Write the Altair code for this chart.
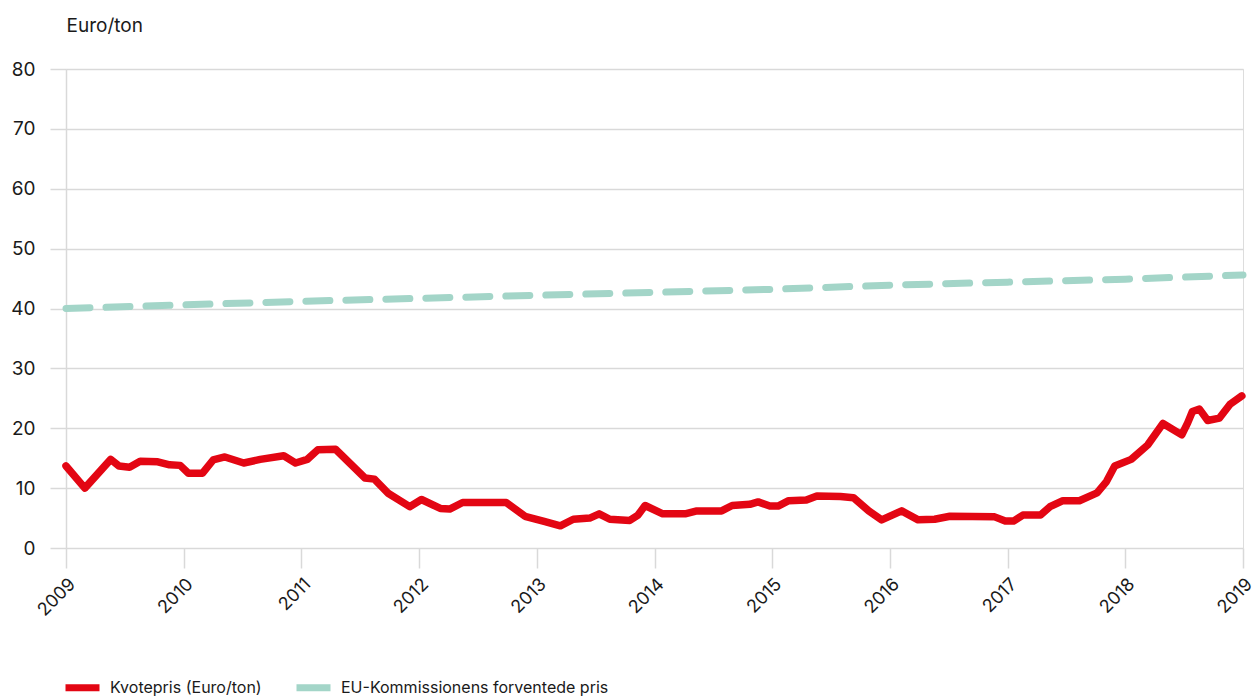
import altair as alt
import pandas as pd

# Quota price observations (decimal year, EUR per ton)
kvote_year = [
    2009.00, 2009.16, 2009.38, 2009.45, 2009.54, 2009.63, 2009.78, 2009.88, 2009.97,
    2010.04, 2010.16, 2010.25, 2010.35, 2010.51, 2010.65, 2010.85, 2010.95,
    2011.05, 2011.14, 2011.29, 2011.54, 2011.62, 2011.74, 2011.92,
    2012.02, 2012.18, 2012.26, 2012.37, 2012.74, 2012.90,
    2013.07, 2013.20, 2013.31, 2013.45, 2013.53, 2013.62, 2013.79, 2013.86, 2013.92,
    2014.07, 2014.26, 2014.36, 2014.57, 2014.66, 2014.81, 2014.88, 2014.98,
    2015.05, 2015.14, 2015.29, 2015.38, 2015.58, 2015.69, 2015.82, 2015.93,
    2016.10, 2016.24, 2016.38, 2016.51, 2016.89, 2016.98,
    2017.05, 2017.13, 2017.28, 2017.36, 2017.47, 2017.61, 2017.76, 2017.84, 2017.91,
    2018.05, 2018.19, 2018.32, 2018.48, 2018.53, 2018.57, 2018.63, 2018.70, 2018.80,
    2018.89, 2018.99,
]
kvote_pris = [
    13.7, 10.0, 14.8, 13.7, 13.5, 14.5, 14.4, 13.9, 13.8,
    12.5, 12.5, 14.7, 15.2, 14.2, 14.8, 15.4, 14.2,
    14.8, 16.4, 16.5, 11.7, 11.5, 9.1, 6.9,
    8.1, 6.6, 6.5, 7.6, 7.6, 5.3,
    4.4, 3.7, 4.8, 5.0, 5.7, 4.8, 4.6, 5.5, 7.1,
    5.7, 5.7, 6.2, 6.2, 7.1, 7.3, 7.7, 7.0,
    7.0, 7.9, 8.0, 8.7, 8.6, 8.4, 6.2, 4.7,
    6.2, 4.7, 4.8, 5.3, 5.2, 4.5,
    4.5, 5.5, 5.5, 6.9, 7.9, 7.9, 9.2, 11.1, 13.7,
    14.8, 17.2, 20.8, 18.9, 20.9, 22.8, 23.2, 21.3, 21.7,
    24.0, 25.4,
]

# EU Commission expected price, one value per year
eu_year = [2009, 2010, 2011, 2012, 2013, 2014, 2015, 2016, 2017, 2018, 2019]
eu_pris = [40.0, 40.6, 41.2, 41.7, 42.2, 42.7, 43.2, 43.9, 44.4, 44.9, 45.6]

SERIES = ["Kvotepris (Euro/ton)", "EU-Kommissionens forventede pris"]
COLORS = ["#e30613", "#a3d5c8"]
FONT = "Inter"
GRID = "#d9d9d9"
TEXT = "#1a1a1a"

kvote_df = pd.DataFrame({"year": kvote_year, "value": kvote_pris, "series": SERIES[0]})
eu_df = pd.DataFrame({"year": eu_year, "value": eu_pris, "series": SERIES[1]})

x_enc = alt.X(
    "year:Q",
    scale=alt.Scale(domain=[2009, 2019], nice=False, zero=False),
    axis=alt.Axis(
        values=list(range(2009, 2020)),
        format="d",
        title=None,
        grid=False,
        domain=False,
        ticks=True,
        tickSize=20,
        tickColor=GRID,
        tickWidth=1.5,
        labelAngle=-45,
        labelFontSize=18,
        labelFont=FONT,
        labelColor=TEXT,
        labelPadding=7,
    ),
)
y_enc = alt.Y(
    "value:Q",
    scale=alt.Scale(domain=[0, 80], nice=False),
    axis=alt.Axis(
        values=list(range(0, 81, 10)),
        title="Euro/ton",
        titleAngle=0,
        titleAlign="left",
        titleBaseline="middle",
        titleX=0,
        titleY=-44,
        titleFont=FONT,
        titleFontSize=19,
        titleFontWeight="normal",
        titleColor=TEXT,
        grid=True,
        gridColor=GRID,
        gridWidth=1.5,
        domain=True,
        domainColor=GRID,
        domainWidth=1.5,
        ticks=True,
        tickSize=16,
        tickColor=GRID,
        tickWidth=1.5,
        labelFontSize=19,
        labelFont=FONT,
        labelColor=TEXT,
        labelPadding=15,
    ),
)
color_enc = alt.Color(
    "series:N",
    scale=alt.Scale(domain=SERIES, range=COLORS),
    legend=alt.Legend(
        title=None,
        orient="none",
        legendX=-4,
        legendY=598,
        direction="horizontal",
        symbolType="stroke",
        symbolSize=1156,
        symbolStrokeWidth=7,
        symbolDash=[1, 0],
        labelFont=FONT,
        labelFontSize=16,
        labelColor=TEXT,
        labelOffset=7,
        labelLimit=0,
        columnPadding=20,
    ),
)

red = alt.Chart(kvote_df).mark_line(
    strokeWidth=7.5, strokeCap="round", strokeJoin="round"
).encode(x=x_enc, y=y_enc, color=color_enc)

green = alt.Chart(eu_df).mark_line(
    strokeWidth=7, strokeCap="round", strokeDash=[24, 16]
).encode(x=x_enc, y=y_enc, color=color_enc)

chart = (
    alt.layer(green, red)
    .properties(
        width=1177,
        height=479,
        autosize=alt.AutoSizeParams(type="none"),
        padding={"left": 66, "top": 69, "right": 10, "bottom": 151},
    )
    .configure_view(stroke=None)
    .configure(background="white")
)

chart.save("out.html", embed_options={"renderer": "svg", "actions": False})
